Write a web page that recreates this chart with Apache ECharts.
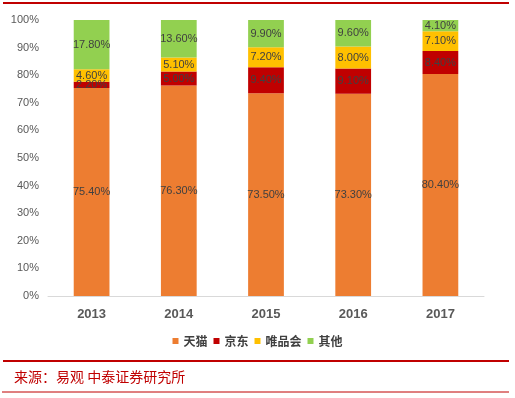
<!DOCTYPE html>
<html>
<head>
<meta charset="utf-8">
<script src="https://cdn.jsdelivr.net/npm/echarts@6/dist/echarts.min.js"></script>
<style>
html,body{margin:0;padding:0;background:#fff;}
#chart{width:515px;height:398px;}
</style>
</head>
<body>
<div id="chart"></div>
<script>
var years = ['2013', '2014', '2015', '2016', '2017'];
var tmall = [75.4, 76.3, 73.5, 73.3, 80.4];
var jd = [2.2, 5.0, 9.4, 9.1, 8.4];
var vip = [4.6, 5.1, 7.2, 8.0, 7.1];
var others = [17.8, 13.6, 9.9, 9.6, 4.1];

var names = ['天猫', '京东', '唯品会', '其他'];
var colors = ['#ED7D31', '#C00000', '#FFC000', '#92D050'];
var values = [tmall, jd, vip, others];

var chart = echarts.init(document.getElementById('chart'));

//堆叠柱
var series = names.map(function (name, i) {
    return {
        name: name,
        type: 'bar',
        stack: 'total',
        barWidth: '41%',
        itemStyle: {color: colors[i]},
        label: {
            show: true,
            position: 'inside',
            color: '#404040',
            fontSize: 11,
            fontFamily: 'Liberation Sans',
            formatter: function (p) { return p.value.toFixed(2) + '%'; }
        },
        data: values[i]
    };
});

chart.setOption({
    animation: false,
    grid: {left: 48, right: 31, top: 20, bottom: 102},
    legend: {
        top: 330,
        left: 'center',
        itemWidth: 6,
        itemHeight: 6,
        itemGap: 6,
        icon: 'rect',
        textStyle: {fontSize: 12, color: '#404040', fontWeight: 'bold', fontFamily: 'Noto Sans CJK SC'},
        data: names
    },
    xAxis: {
        type: 'category',
        data: years,
        axisLine: {lineStyle: {color: '#D9D9D9', width: 1}},
        axisTick: {show: false},
        axisLabel: {color: '#595959', fontSize: 13, fontWeight: 'bold', margin: 12, fontFamily: 'Liberation Sans'}
    },
    yAxis: {
        type: 'value',
        min: 0,
        max: 100,
        interval: 10,
        splitLine: {show: false},
        axisLine: {show: false},
        axisTick: {show: false},
        axisLabel: {color: '#595959', fontSize: 11, margin: 9, fontFamily: 'Liberation Sans', formatter: '{value}%'}
    },
    graphic: [
        {type: 'line', shape: {x1: 3, y1: 3, x2: 509, y2: 3}, style: {stroke: '#C00000', lineWidth: 2}},
        {type: 'line', shape: {x1: 3, y1: 361, x2: 509, y2: 361}, style: {stroke: '#C00000', lineWidth: 2}},
        {type: 'line', shape: {x1: 2, y1: 392, x2: 509, y2: 392}, style: {stroke: '#C00000', lineWidth: 1}},
        {type: 'text', left: 14, top: 370, style: {text: '来源：易观 中泰证券研究所', fill: '#C00000', fontSize: 14, fontFamily: 'Noto Sans CJK SC'}}
    ],
    series: series
});
</script>
</body>
</html>
